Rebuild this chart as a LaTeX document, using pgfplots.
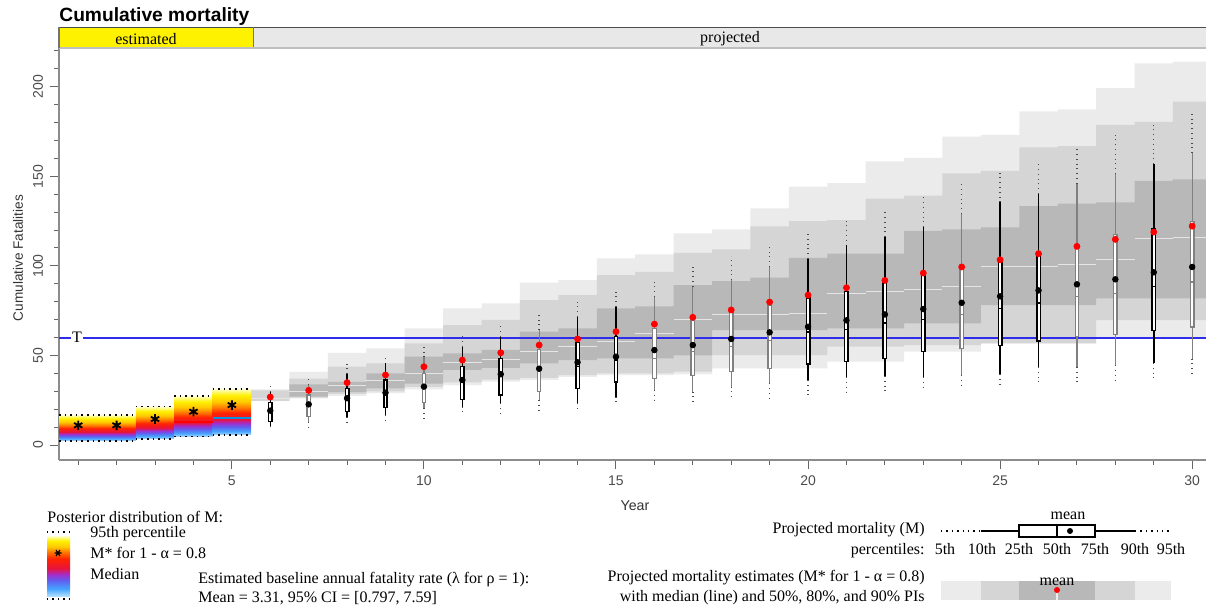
\documentclass[border=0pt]{standalone}
\usepackage{fontspec}
\setmainfont{Liberation Serif}
\newfontfamily\arial{Liberation Sans}
\usepackage{pgfplots}
\pgfplotsset{compat=1.18}
\usepgfplotslibrary{fillbetween,statistics}
\usepackage{pgfplotstable}

\definecolor{bandA}{RGB}{235,235,235}
\definecolor{bandB}{RGB}{213,213,213}
\definecolor{bandC}{RGB}{184,184,184}
\definecolor{tblue}{RGB}{45,45,235}
\definecolor{g0}{RGB}{175,222,255}
\definecolor{g1}{RGB}{70,165,255}
\definecolor{g2}{RGB}{95,95,240}
\definecolor{g3}{RGB}{165,45,200}
\definecolor{g4}{RGB}{232,20,60}
\definecolor{g5}{RGB}{255,35,0}
\definecolor{g6}{RGB}{255,125,0}
\definecolor{g7}{RGB}{255,200,0}
\definecolor{g8}{RGB}{255,240,0}
\definecolor{g9}{RGB}{255,255,205}

\pgfdeclareverticalshading{mgrad}{100bp}{color(0bp)=(g0); color(25bp)=(g0); color(29bp)=(g1); color(34bp)=(g2); color(38bp)=(g3); color(42bp)=(g4); color(49bp)=(g5); color(55bp)=(g6); color(61bp)=(g7); color(68bp)=(g8); color(75bp)=(g9); color(100bp)=(g9)}
\pgfdeclareverticalshading{lgrad}{100bp}{color(0bp)=(g0); color(25bp)=(g0); color(31bp)=(g1); color(38bp)=(g2); color(43bp)=(g3); color(48bp)=(g4); color(56bp)=(g5); color(62bp)=(g6); color(66bp)=(g7); color(71bp)=(g8); color(75bp)=(g9); color(100bp)=(g9)}

\pgfplotsset{
  bk/.style={black, line width=0.75pt},
  gy/.style={black!50, line width=0.6pt},
}

% projected M* bands (x = left edge of each year's step)
\pgfplotstableread{
x     l90  l80  l50  med   u50   u80   u90
5.5   24.5 24.6 26.0 26.0  26.0  30.5  31.1
6.5   26.0 26.4 27.0 30.0  33.9  37.0  40.9
7.5   27.5 28.5 29.5 33.0  35.3  43.7  51.5
8.5   29.0 30.0 31.6 36.0  40.0  45.6  54.0
9.5   31.0 32.5 34.3 40.0  49.3  56.8  65.1
10.5  33.5 35.0 41.9 46.0  51.2  67.0  76.3
11.5  35.4 36.5 43.0 48.0  53.1  69.8  79.1
12.5  36.3 37.5 45.6 52.0  63.3  80.9  90.6
13.5  38.1 39.0 47.4 55.0  65.1  83.7  92.1
14.5  39.0 40.0 48.4 58.0  76.3  94.9  104.2
15.5  39.0 40.0 48.4 62.0  77.4  96.7  106.4
16.5  39.5 41.0 50.0 69.8  89.3  107.3 118.2
17.5  42.8 50.2 64.2 72.6  91.5  109.2 120.4
18.5  42.8 50.2 64.2 73.0  93.4  122.0 132.1
19.5  42.8 50.2 64.2 73.5  104.5 125.0 144.3
20.5  46.5 54.9 65.1 84.7  106.8 125.5 146.2
21.5  46.5 54.9 65.1 85.6  106.8 137.5 158.3
22.5  52.1 55.8 67.9 87.0  119.5 139.2 160.3
23.5  52.1 55.8 67.9 88.4  120.4 151.7 172.2
24.5  56.8 56.8 78.1 99.4  121.5 153.1 173.1
25.5  56.8 56.8 78.1 99.7  133.3 166.2 186.3
26.5  56.8 56.8 78.1 101.0 134.8 166.9 187.4
27.5  60.4 69.7 81.9 103.4 135.5 178.7 199.2
28.5  60.4 69.7 81.9 115.2 147.5 180.4 213.0
29.5  60.4 69.7 81.9 116.0 148.3 191.7 214.0
30.5  60.4 69.7 81.9 116.0 148.3 191.7 214.0
}\bands

% projected mortality M percentiles, mean and M*
\pgfplotstableread{
yr  p5   p10  p25  p50  p75   p90   p95   mean mstar
6   8.0  10.6 13.0 18.6 23.8  29.8  33.9  19.2 26.8
7   9.8  13.0 15.8 21.4 27.9  33.5  38.5  22.7 30.5
8   12.1 15.8 18.6 25.1 31.6  39.6  45.2  26.1 34.8
9   13.6 16.7 21.0 27.9 36.3  45.6  49.9  29.2 39.1
10  14.6 20.5 23.8 31.6 40.0  49.0  55.3  32.6 43.7
11  16.4 21.4 25.5 35.4 43.7  54.9  61.8  36.3 47.4
12  17.6 23.2 27.9 38.9 48.4  60.5  67.5  39.5 51.5
13  18.6 25.1 29.8 41.9 53.4  64.2  73.5  42.6 55.8
14  19.5 23.2 31.6 43.7 57.1  71.6  80.0  46.2 59.2
15  21.8 27.0 35.3 47.4 60.5  77.2  85.6  49.3 63.3
16  23.3 30.7 37.2 48.4 65.1  82.8  93.4  53.0 67.5
17  24.2 29.8 38.7 52.1 69.4  88.4  99.5  55.8 71.3
18  25.1 32.6 40.9 54.9 73.9  92.1  105.5 59.2 75.4
19  25.6 34.4 42.8 58.2 78.0  99.5  112.2 62.9 79.8
20  27.1 36.3 45.2 63.0 82.2  104.0 118.5 66.0 83.7
21  28.6 37.9 46.7 64.4 85.8  111.4 126.3 69.6 87.8
22  30.0 38.5 48.2 68.1 91.4  116.1 131.4 72.9 91.9
23  30.5 37.9 52.3 70.0 95.1  121.7 139.4 75.9 96.0
24  31.4 39.0 53.8 72.7 98.4  129.1 145.9 79.4 99.4
25  32.7 39.6 55.6 76.1 103.1 135.6 153.3 83.0 103.4
26  34.2 43.5 58.1 79.3 107.7 140.3 158.9 86.3 106.8
27  35.2 43.5 60.7 83.0 110.5 145.9 166.7 89.7 110.9
28  36.1 44.5 61.8 84.5 117.4 151.4 172.9 92.5 114.8
29  36.4 45.8 64.0 88.6 120.7 157.0 179.7 96.4 118.9
30  37.6 48.2 65.9 91.0 124.9 163.0 186.3 99.4 122.2
}\boxes

% estimated years: lower and upper limits of posterior of M
\pgfplotstableread{
x    lo   hi
0.5  2.4  16.8
2.5  3.5  21.4
3.5  4.7  27.4
4.5  5.6  31.3
5.5  5.6  31.3
}\est

\begin{document}
\begin{tikzpicture}
\begin{axis}[
  at={(0,0)}, anchor=south west,
  scale only axis, width=573.5pt, height=206.5pt,
  xmin=0.5, xmax=30.36, ymin=-8.37, ymax=222.2,
  axis x line*=bottom, axis y line*=left,
  axis line style={-, black!45, line width=0.8pt},
  xtick={5,10,...,30},
  minor xtick={1,2,3,4,6,7,8,9,11,12,13,14,16,17,18,19,21,22,23,24,26,27,28,29},
  ytick={0,50,...,200},
  minor ytick={10,20,30,40,60,70,80,90,110,120,130,140,160,170,180,190,210,220},
  tick align=outside, major tick length=4.5pt, minor tick length=2.5pt,
  every tick/.style={black!60, line width=0.5pt},
  ticklabel style={font=\arial\fontsize{7}{8}\selectfont, text=black!70},
  /pgf/number format/assume math mode=true,
  yticklabel style={rotate=90, anchor=south},
  boxplot/draw direction=y,
  boxplot/box extend=0.09,
  boxplot/whisker extend=0,
  boxplot/every box/.style={draw, fill=white},
]
% ---- estimated years (posterior of M) ----
\addplot[draw=none, shading=mgrad] coordinates {(0.5,2.4) (2.5,2.4) (2.5,16.8) (0.5,16.8)} -- cycle;
\addplot[draw=none, shading=mgrad] coordinates {(2.5,3.5) (3.5,3.5) (3.5,21.4) (2.5,21.4)} -- cycle;
\addplot[draw=none, shading=mgrad] coordinates {(3.5,4.7) (4.5,4.7) (4.5,27.4) (3.5,27.4)} -- cycle;
\addplot[draw=none, shading=mgrad] coordinates {(4.5,5.6) (5.5,5.6) (5.5,31.3) (4.5,31.3)} -- cycle;
\addplot[jump mark left, dotted, line width=0.8pt, black] table[x=x, y=hi] {\est};
\addplot[jump mark left, dotted, line width=0.8pt, black] table[x=x, y=lo] {\est};
\addplot[red, line width=1pt] coordinates {(3.5,12.8) (4.5,12.8)};
\addplot[cyan!80!blue, line width=1pt] coordinates {(4.5,14.9) (5.5,14.9)};
\addplot[only marks, mark=asterisk, mark size=2.4pt, line width=0.9pt, black] coordinates {(1,11.0) (2,11.0) (3,14.5) (4,18.6) (5,22.3)};

% ---- projected M* bands ----
\addplot[name path=u90, draw=none, const plot mark left] table[x=x, y=u90] {\bands};
\addplot[name path=l90, draw=none, const plot mark left] table[x=x, y=l90] {\bands};
\addplot[bandA, draw=none] fill between[of=u90 and l90];
\addplot[name path=u80, draw=none, const plot mark left] table[x=x, y=u80] {\bands};
\addplot[name path=l80, draw=none, const plot mark left] table[x=x, y=l80] {\bands};
\addplot[bandB, draw=none] fill between[of=u80 and l80];
\addplot[name path=u50, draw=none, const plot mark left] table[x=x, y=u50] {\bands};
\addplot[name path=l50, draw=none, const plot mark left] table[x=x, y=l50] {\bands};
\addplot[bandC, draw=none] fill between[of=u50 and l50];
\addplot[jump mark left, white!80!gray, line width=0.5pt] table[x=x, y=med] {\bands};

% ---- threshold T ----
\addplot[tblue, line width=1pt] coordinates {(0.5,60) (30.36,60)};

% ---- projected M: 5th-10th and 90th-95th (dotted) ----
\addplot[draw=none, mark=none, error bars/.cd, y dir=minus, y explicit, error mark=none,
  error bar style={draw=black!70, solid, dotted, line width=0.7pt}]
  table[x=yr, y=p10, y error minus expr=\thisrow{p10}-\thisrow{p5}] {\boxes};
\addplot[draw=none, mark=none, error bars/.cd, y dir=plus, y explicit, error mark=none,
  error bar style={draw=black!70, solid, dotted, line width=0.7pt}]
  table[x=yr, y=p90, y error plus expr=\thisrow{p95}-\thisrow{p90}] {\boxes};

% ---- projected M: boxes (10th, 25th, 50th, 75th, 90th) ----
\addplot[bk, boxplot prepared={draw position=6,  lower whisker=10.6, lower quartile=13.0, median=18.6, upper quartile=23.8,  upper whisker=29.8}] coordinates {};
\addplot[gy, boxplot prepared={draw position=7,  lower whisker=13.0, lower quartile=15.8, median=21.4, upper quartile=27.9,  upper whisker=33.5}] coordinates {};
\addplot[bk, boxplot prepared={draw position=8,  lower whisker=15.8, lower quartile=18.6, median=25.1, upper quartile=31.6,  upper whisker=39.6}] coordinates {};
\addplot[bk, boxplot prepared={draw position=9,  lower whisker=16.7, lower quartile=21.0, median=27.9, upper quartile=36.3,  upper whisker=45.6}] coordinates {};
\addplot[gy, boxplot prepared={draw position=10, lower whisker=20.5, lower quartile=23.8, median=31.6, upper quartile=40.0,  upper whisker=49.0}] coordinates {};
\addplot[bk, boxplot prepared={draw position=11, lower whisker=21.4, lower quartile=25.5, median=35.4, upper quartile=43.7,  upper whisker=54.9}] coordinates {};
\addplot[bk, boxplot prepared={draw position=12, lower whisker=23.2, lower quartile=27.9, median=38.9, upper quartile=48.4,  upper whisker=60.5}] coordinates {};
\addplot[gy, boxplot prepared={draw position=13, lower whisker=25.1, lower quartile=29.8, median=41.9, upper quartile=53.4,  upper whisker=64.2}] coordinates {};
\addplot[bk, boxplot prepared={draw position=14, lower whisker=23.2, lower quartile=31.6, median=43.7, upper quartile=57.1,  upper whisker=71.6}] coordinates {};
\addplot[bk, boxplot prepared={draw position=15, lower whisker=27.0, lower quartile=35.3, median=47.4, upper quartile=60.5,  upper whisker=77.2}] coordinates {};
\addplot[gy, boxplot prepared={draw position=16, lower whisker=30.7, lower quartile=37.2, median=48.4, upper quartile=65.1,  upper whisker=82.8}] coordinates {};
\addplot[gy, boxplot prepared={draw position=17, lower whisker=29.8, lower quartile=38.7, median=52.1, upper quartile=69.4,  upper whisker=88.4}] coordinates {};
\addplot[gy, boxplot prepared={draw position=18, lower whisker=32.6, lower quartile=40.9, median=54.9, upper quartile=73.9,  upper whisker=92.1}] coordinates {};
\addplot[gy, boxplot prepared={draw position=19, lower whisker=34.4, lower quartile=42.8, median=58.2, upper quartile=78.0,  upper whisker=99.5}] coordinates {};
\addplot[bk, boxplot prepared={draw position=20, lower whisker=36.3, lower quartile=45.2, median=63.0, upper quartile=82.2,  upper whisker=104.0}] coordinates {};
\addplot[bk, boxplot prepared={draw position=21, lower whisker=37.9, lower quartile=46.7, median=64.4, upper quartile=85.8,  upper whisker=111.4}] coordinates {};
\addplot[bk, boxplot prepared={draw position=22, lower whisker=38.5, lower quartile=48.2, median=68.1, upper quartile=91.4,  upper whisker=116.1}] coordinates {};
\addplot[bk, boxplot prepared={draw position=23, lower whisker=37.9, lower quartile=52.3, median=70.0, upper quartile=95.1,  upper whisker=121.7}] coordinates {};
\addplot[gy, boxplot prepared={draw position=24, lower whisker=39.0, lower quartile=53.8, median=72.7, upper quartile=98.4,  upper whisker=129.1}] coordinates {};
\addplot[bk, boxplot prepared={draw position=25, lower whisker=39.6, lower quartile=55.6, median=76.1, upper quartile=103.1, upper whisker=135.6}] coordinates {};
\addplot[bk, boxplot prepared={draw position=26, lower whisker=43.5, lower quartile=58.1, median=79.3, upper quartile=107.7, upper whisker=140.3}] coordinates {};
\addplot[gy, boxplot prepared={draw position=27, lower whisker=43.5, lower quartile=60.7, median=83.0, upper quartile=110.5, upper whisker=145.9}] coordinates {};
\addplot[gy, boxplot prepared={draw position=28, lower whisker=44.5, lower quartile=61.8, median=84.5, upper quartile=117.4, upper whisker=151.4}] coordinates {};
\addplot[bk, boxplot prepared={draw position=29, lower whisker=45.8, lower quartile=64.0, median=88.6, upper quartile=120.7, upper whisker=157.0}] coordinates {};
\addplot[gy, boxplot prepared={draw position=30, lower whisker=48.2, lower quartile=65.9, median=91.0, upper quartile=124.9, upper whisker=163.0}] coordinates {};

% ---- means and M* ----
\addplot[only marks, mark=*, mark size=1.4pt, black] table[x=yr, y=mean] {\boxes};
\addplot[only marks, mark=*, mark size=1.5pt, red] table[x=yr, y=mstar] {\boxes};
\end{axis}

\begin{scope}[x=0.5pt, y=-0.5pt, shift={(-29.5pt,230pt)}, font=\fontsize{8}{9.6}\selectfont, every node/.style={inner sep=0pt}]
% top strip
\fill[yellow] (59,27) rectangle (253,47);
\fill[black!9] (253,27) rectangle (1206,47);
\draw[black!70, line width=0.5pt] (59,27) -- (1206,27);
\draw[black!25, line width=1pt] (59,47.5) -- (1206,47.5);
\draw[black!55, line width=0.5pt] (253,27) -- (253,47);
\draw[black!55, line width=0.8pt] (59,27) -- (59,48);
\node at (146,39) {estimated};
\node at (730,39) {projected};
\node[anchor=base west, font=\arial\bfseries\fontsize{9.6}{11}\selectfont] at (59,21.5) {Cumulative mortality};
% T label
\node[fill=white, inner sep=0.6pt, font=\fontsize{8}{9}\selectfont] at (77,337) {T};
% axis labels
\node[rotate=90, font=\arial\fontsize{6.8}{8}\selectfont, text=black!80] at (18,258) {Cumulative Fatalities};
\node[font=\arial\fontsize{7.1}{8}\selectfont, text=black!80] at (635,506) {Year};
% left legend
\node[anchor=base west] at (47,522) {Posterior distribution of M:};
\draw[dotted, line width=0.7pt] (47,532) -- (70,532);
\shade[shading=lgrad] (47,536) rectangle (70,596);
\draw[dotted, line width=0.7pt] (47,599) -- (70,599);
\draw[line width=0.6pt] (54.5,553) -- (61.5,553) (56,550) -- (60,556) (56,556) -- (60,550);
\node[anchor=base west] at (90,537) {95th percentile};
\node[anchor=base west] at (90,558) {M* for 1 - α = 0.8};
\node[anchor=base west] at (90,579) {Median};
\node[anchor=base west] at (198,583) {Estimated baseline annual fatality rate (λ for ρ = 1):};
\node[anchor=base west] at (198,602) {Mean = 3.31, 95\% CI = [0.797, 7.59]};
% right legend: boxplot glyph
\node at (1068,516) {mean};
\node[anchor=base east] at (925,533) {Projected mortality (M)};
\node[anchor=base east] at (925,554) {percentiles:};
\foreach \xx/\lab in {945/5th, 982/10th, 1019/25th, 1057/50th, 1095/75th, 1135/90th, 1171/95th}
  \node[anchor=base] at (\xx,554) {\lab};
\draw[dotted, line width=0.7pt] (941,531) -- (981,531);
\draw[line width=0.7pt] (981,531) -- (1019,531) (1095,531) -- (1135,531);
\draw[dotted, line width=0.7pt] (1135,531) -- (1171,531);
\draw[line width=0.7pt, fill=white] (1019,525) rectangle (1095,537);
\draw[line width=0.7pt] (1057,525) -- (1057,537);
\fill (1070,531) circle (3);
% right legend: band glyph
\fill[bandA] (941,581) rectangle (1171,600);
\fill[bandB] (981,581) rectangle (1135,600);
\fill[bandC] (1019,581) rectangle (1095,600);
\draw[white!85!gray, line width=0.6pt] (1057,593) -- (1057,600);
\fill[red] (1057,590) circle (3);
\node at (1057,582) {mean};
\node[anchor=base east] at (925,581) {Projected mortality estimates (M* for 1 - α = 0.8)};
\node[anchor=base east] at (925,601) {with median (line) and 50\%, 80\%, and 90\% PIs};
\end{scope}
\pgfresetboundingbox
\path (-29.5pt,-73.5pt) rectangle (573.5pt,230pt);
\end{tikzpicture}
\end{document}
